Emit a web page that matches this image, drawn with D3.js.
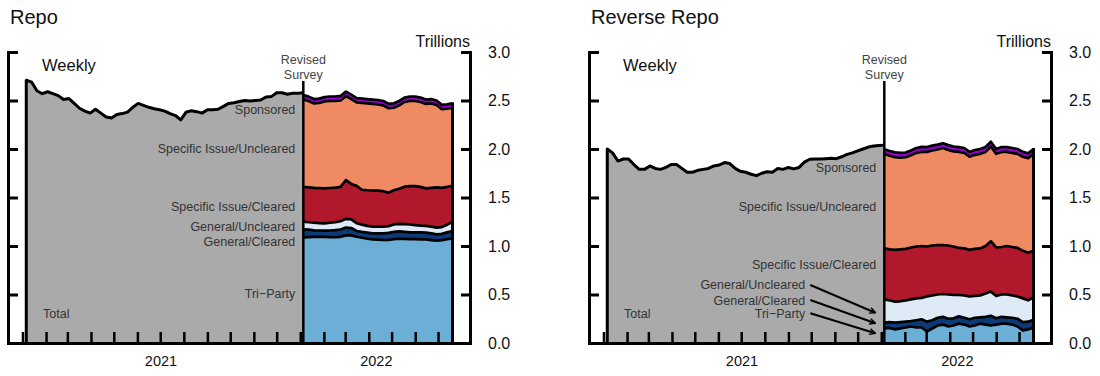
<!DOCTYPE html>
<html><head><meta charset="utf-8">
<script src="https://cdn.jsdelivr.net/npm/d3@7"></script>
<style>
body{margin:0;background:#fff}
svg text{font-family:Arial,"Liberation Sans",sans-serif}
</style>
</head><body>
<svg id="c" width="1100" height="376"></svg>
<script>
// ---------- DATA ----------
const seriesKeys = ["Tri−Party","General/Cleared","General/Uncleared","Specific Issue/Cleared","Specific Issue/Uncleared","Sponsored"];
const seriesColors = ["#6baed6","#0c3a78","#deebf7","#b2182b","#ef8a62","#9a00d6"];
const yTicks = [0,0.5,1,1.5,2,2.5,3];
const yearLabels = ["2021","2022"];
const firstWeek = "2021-01-06";
const revisedDate = "2022-01-05";

// Repo: weekly total before the revised survey
const repoTotal = [2.71,2.69,2.60,2.57,2.59,2.57,2.55,2.51,2.52,2.47,2.42,2.39,2.37,2.41,2.37,2.33,2.32,2.355,2.365,2.38,2.43,2.47,2.45,2.43,2.415,2.405,2.39,2.365,2.345,2.30,2.38,2.395,2.385,2.37,2.405,2.405,2.41,2.44,2.47,2.477,2.49,2.50,2.495,2.50,2.505,2.536,2.54,2.58,2.58,2.565,2.575,2.575,2.58];
// Repo: revised survey components
const repoTriParty   = [1.089,1.092,1.094,1.096,1.095,1.092,1.09,1.095,1.11,1.11,1.095,1.085,1.075,1.069,1.065,1.062,1.062,1.07,1.075,1.073,1.07,1.07,1.069,1.068,1.06,1.055,1.06,1.07,1.078];
const repoGenCleared = [0.083,0.076,0.068,0.064,0.063,0.068,0.073,0.075,0.08,0.075,0.06,0.06,0.063,0.062,0.066,0.069,0.073,0.075,0.075,0.072,0.071,0.071,0.072,0.07,0.07,0.065,0.065,0.07,0.077];
const repoGenUncl    = [0.079,0.077,0.078,0.075,0.076,0.08,0.082,0.085,0.09,0.09,0.08,0.075,0.07,0.069,0.069,0.069,0.07,0.077,0.078,0.08,0.081,0.074,0.069,0.07,0.07,0.07,0.07,0.08,0.095];
const repoSpecCleared= [0.36,0.36,0.36,0.362,0.36,0.358,0.357,0.355,0.40,0.365,0.385,0.36,0.367,0.372,0.37,0.365,0.345,0.353,0.362,0.387,0.396,0.403,0.40,0.386,0.40,0.414,0.405,0.39,0.37];
const repoSpecUncl   = [0.901,0.89,0.87,0.878,0.896,0.897,0.893,0.89,0.865,0.875,0.86,0.895,0.895,0.893,0.89,0.885,0.87,0.85,0.86,0.873,0.877,0.877,0.875,0.871,0.87,0.851,0.81,0.805,0.805];
const repoSponsored  = [0.045,0.045,0.045,0.044,0.045,0.046,0.046,0.047,0.046,0.045,0.045,0.045,0.044,0.044,0.045,0.045,0.046,0.046,0.045,0.045,0.045,0.045,0.045,0.044,0.045,0.045,0.045,0.045,0.045];

// Reverse repo: weekly total before the revised survey
const revTotal = [2.00,1.96,1.876,1.897,1.897,1.84,1.79,1.79,1.825,1.80,1.79,1.81,1.84,1.84,1.80,1.76,1.76,1.78,1.79,1.80,1.825,1.835,1.86,1.85,1.80,1.77,1.76,1.74,1.725,1.75,1.766,1.76,1.80,1.79,1.81,1.795,1.81,1.865,1.894,1.897,1.897,1.90,1.904,1.90,1.92,1.945,1.96,1.98,2.00,2.02,2.03,2.035,2.04];
// Reverse repo: revised survey components
const revTriParty   = [0.15,0.155,0.14,0.15,0.16,0.17,0.16,0.16,0.12,0.15,0.18,0.19,0.17,0.18,0.20,0.19,0.17,0.18,0.20,0.19,0.18,0.19,0.20,0.20,0.19,0.17,0.13,0.14,0.16];
const revGenCleared = [0.06,0.06,0.07,0.065,0.06,0.055,0.075,0.085,0.10,0.085,0.08,0.08,0.08,0.075,0.075,0.07,0.075,0.08,0.065,0.08,0.10,0.065,0.07,0.065,0.07,0.08,0.085,0.08,0.08];
const revGenUncl    = [0.24,0.225,0.215,0.215,0.22,0.225,0.225,0.22,0.26,0.255,0.24,0.235,0.25,0.24,0.22,0.23,0.235,0.225,0.225,0.24,0.25,0.23,0.23,0.235,0.23,0.23,0.245,0.22,0.23];
const revSpecCleared= [0.525,0.525,0.535,0.535,0.53,0.535,0.535,0.535,0.515,0.515,0.51,0.505,0.505,0.50,0.485,0.485,0.48,0.485,0.485,0.49,0.52,0.50,0.49,0.50,0.50,0.50,0.49,0.49,0.48];
const revSpecUncl   = [0.975,0.965,0.955,0.945,0.945,0.95,0.965,0.97,0.975,0.98,0.985,1.0,0.985,0.98,0.99,0.985,0.96,0.97,0.975,0.97,0.975,0.965,0.98,0.97,0.97,0.97,0.97,0.975,1.0];
const revSponsored  = [0.048,0.05,0.05,0.05,0.048,0.05,0.05,0.052,0.05,0.05,0.05,0.05,0.05,0.05,0.05,0.05,0.05,0.05,0.05,0.05,0.05,0.05,0.05,0.05,0.05,0.05,0.05,0.05,0.05];

// ---------- DRAWING ----------
const FONT_COLOR = "#333";
const svg = d3.select("#c");
const parse = d3.timeParse("%Y-%m-%d");
const revDate = parse(revisedDate);
const grayDates = repoTotal.map((_, i) => d3.timeDay.offset(parse(firstWeek), 7 * i));
const colorDates = repoTriParty.map((_, i) => d3.timeDay.offset(revDate, 7 * i));

const defs = svg.append("defs");
defs.append("marker").attr("id","arr").attr("viewBox","0 0 10 10").attr("refX",9).attr("refY",5)
  .attr("markerWidth",3.6).attr("markerHeight",3.6).attr("orient","auto")
  .append("path").attr("d","M1,1 L9,5 L1,9").attr("fill","none").attr("stroke","#000").attr("stroke-width",2);

const panels = [
  { title: "Repo", xr: [8, 470], total: repoTotal,
    series: [repoTriParty, repoGenCleared, repoGenUncl, repoSpecCleared, repoSpecUncl, repoSponsored],
    labels: [
      {t:"Sponsored", v:2.41}, {t:"Specific Issue/Uncleared", v:2.01}, {t:"Specific Issue/Cleared", v:1.41},
      {t:"General/Uncleared", v:1.196}, {t:"General/Cleared", v:1.05}, {t:"Tri−Party", v:0.515}
    ] },
  { title: "Reverse Repo", xr: [589, 1051], total: revTotal,
    series: [revTriParty, revGenCleared, revGenUncl, revSpecCleared, revSpecUncl, revSponsored],
    labels: [
      {t:"Sponsored", v:1.807}, {t:"Specific Issue/Uncleared", v:1.405}, {t:"Specific Issue/Cleared", v:0.811},
      {t:"General/Uncleared", v:0.598, off:79, to:0.312}, {t:"General/Cleared", v:0.443, off:79, to:0.203},
      {t:"Tri−Party", v:0.306, off:79, to:0.10}
    ] }
];

panels.forEach(p => {
  const g = svg.append("g");
  const x = d3.scaleTime().domain([parse("2020-12-13"), parse("2022-08-12")]).range(p.xr);
  const y = d3.scaleLinear().domain([0, 3]).range([343, 52]);

  g.append("text").attr("x", p.xr[0] + 2).attr("y", 24).attr("font-size", 20).attr("fill", "#111").text(p.title);

  // gray total area
  const gray = grayDates.map((d, i) => ({date: d, v: p.total[i]}));
  g.append("path").datum(gray)
    .attr("d", d3.area().x(d => x(d.date)).y0(y(0)).y1(d => y(d.v)))
    .attr("fill", "#aaaaaa");
  g.append("path").datum([{date: gray[0].date, v: 0}, ...gray])
    .attr("d", d3.line().x(d => x(d.date)).y(d => y(d.v)))
    .attr("fill", "none").attr("stroke", "#000").attr("stroke-width", 3).attr("stroke-linejoin", "round");

  // stacked components
  const rows = colorDates.map((d, i) => {
    const r = {date: d};
    seriesKeys.forEach((k, j) => r[k] = p.series[j][i]);
    return r;
  });
  const stacked = d3.stack().keys(seriesKeys)(rows);
  stacked.forEach((s, i) => {
    g.append("path").datum(s)
      .attr("d", d3.area().x(d => x(d.data.date)).y0(d => y(d[0])).y1(d => y(d[1])))
      .attr("fill", seriesColors[i]);
  });
  stacked.forEach(s => {
    g.append("path").datum(s)
      .attr("d", d3.line().x(d => x(d.data.date)).y(d => y(d[1])))
      .attr("fill", "none").attr("stroke", "#000").attr("stroke-width", 2.7).attr("stroke-linejoin", "round");
  });
  const lastTop = stacked[stacked.length - 1][rows.length - 1];
  g.append("line")
    .attr("x1", x(rows[rows.length - 1].date)).attr("x2", x(rows[rows.length - 1].date))
    .attr("y1", y(0)).attr("y2", y(lastTop[1]) - 1)
    .attr("stroke", "#000").attr("stroke-width", 3);

  // revised survey line + label
  g.append("line").attr("x1", x(revDate)).attr("x2", x(revDate))
    .attr("y1", 81).attr("y2", y(0)).attr("stroke", "#000").attr("stroke-width", 2.5);
  g.append("text").attr("x", x(revDate)).attr("y", 64).attr("text-anchor", "middle")
    .attr("font-size", 12.5).attr("fill", "#444").text("Revised");
  g.append("text").attr("x", x(revDate)).attr("y", 79).attr("text-anchor", "middle")
    .attr("font-size", 12.5).attr("fill", "#444").text("Survey");

  // series labels
  p.labels.forEach(l => {
    const lx = x(revDate) - (l.off || 8);
    g.append("text").attr("x", lx).attr("y", y(l.v) + 4.5).attr("text-anchor", "end")
      .attr("font-size", 12.5).attr("fill", FONT_COLOR).text(l.t);
    if (l.to !== undefined) {
      g.append("line").attr("x1", lx + 5).attr("y1", y(l.v))
        .attr("x2", x(revDate) - 9).attr("y2", y(l.to))
        .attr("stroke", "#000").attr("stroke-width", 2).attr("marker-end", "url(#arr)");
    }
  });
  g.append("text").attr("x", p.xr[0] + 35).attr("y", y(0.3) + 4.5)
    .attr("font-size", 12.5).attr("fill", FONT_COLOR).text("Total");
  g.append("text").attr("x", p.xr[0] + 34).attr("y", 70.5)
    .attr("font-size", 16.5).attr("fill", "#111").text("Weekly");

  // bottom axis with inward monthly ticks
  const bx = g.append("g").attr("transform", `translate(0,${y(0)})`)
    .call(d3.axisBottom(x)
      .tickValues(d3.timeMonth.range(parse("2021-01-01"), parse("2022-07-02")))
      .tickSizeInner(-11).tickSizeOuter(0).tickFormat(""));
  bx.select(".domain").attr("stroke-width", 3).attr("stroke-linecap", "square");
  bx.selectAll(".tick line").attr("stroke-width", 2.5);

  // year labels centred on the visible part of each year
  const lastDate = colorDates[colorDates.length - 1];
  yearLabels.forEach(yr => {
    const a = parse(yr + "-01-01");
    const b = d3.min([parse(yr + "-12-31"), lastDate]);
    g.append("text").attr("x", (x(a) + x(b)) / 2).attr("y", 366).attr("text-anchor", "middle")
      .attr("font-size", 14.5).attr("fill", "#111").text(yr);
  });

  // left bracket axis
  const la = g.append("g").attr("transform", `translate(${p.xr[0]},0)`)
    .call(d3.axisRight(y).tickValues(yTicks).tickSizeInner(10).tickSizeOuter(0).tickFormat(""));
  la.select(".domain").attr("stroke-width", 3).attr("stroke-linecap", "square");
  la.selectAll(".tick line").attr("stroke-width", 3);

  // right axis with labels
  const ra = g.append("g").attr("transform", `translate(${p.xr[1]},0)`)
    .call(d3.axisRight(y).tickValues(yTicks).tickSizeInner(-9).tickSizeOuter(0).tickPadding(18).tickFormat(d3.format(".1f")));
  ra.select(".domain").attr("stroke-width", 3).attr("stroke-linecap", "square");
  ra.selectAll(".tick line").attr("stroke-width", 3);
  ra.selectAll(".tick text").attr("font-size", 16).attr("fill", "#111")
    .style("font-family", "Arial, 'Liberation Sans', sans-serif");

  g.append("text").attr("x", p.xr[1]).attr("y", 46.5).attr("text-anchor", "end")
    .attr("font-size", 16).attr("fill", "#111").text("Trillions");
});
</script>
</body></html>
